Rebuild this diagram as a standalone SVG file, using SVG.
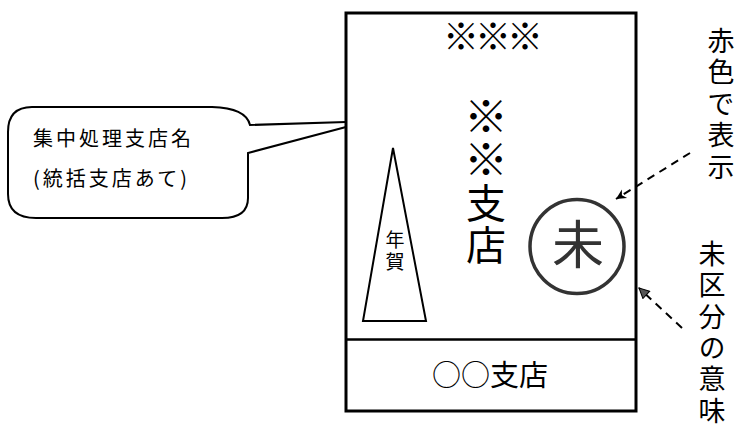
<svg xmlns="http://www.w3.org/2000/svg" width="741" height="429" viewBox="0 0 741 429">
<style>
.t{font-family:"Noto Sans CJK JP","Noto Sans CJK SC",sans-serif;fill:#000}
.c{text-anchor:middle}
.v{writing-mode:vertical-rl;text-orientation:upright}
.ln{fill:none;stroke:#000}
.dash{fill:none;stroke:#000;stroke-width:2;stroke-dasharray:8 6}
</style>
<defs>
<marker id="chev" viewBox="0 0 12 12" refX="11" refY="6" markerWidth="12" markerHeight="12" markerUnits="userSpaceOnUse" orient="auto">
<path d="M1,1 L11,6 L1,11 L4,6 Z" fill="#000"/>
</marker>
<marker id="tri" viewBox="0 0 12 12" refX="11" refY="6" markerWidth="12" markerHeight="12" markerUnits="userSpaceOnUse" orient="auto">
<path d="M1,1 L11,6 L1,11 Z" fill="#555" stroke="#000" stroke-width="1"/>
</marker>
</defs>
<rect width="741" height="429" fill="#fff"/>

<g id="callout">
<path class="ln" stroke-width="2" d="M32,107 L212,107 Q246,108 250,125 L346,122 M346,127 L248,153 L248,198 Q248,218 222,218 L36,218 Q8,218 8,194 L8,132 Q8,107 32,107"/>
<text class="t" x="33" y="146" font-size="20" letter-spacing="3">集中処理支店名</text>
<text class="t" x="33" y="186" font-size="20" letter-spacing="3">(統括支店あて)</text>
</g>

<g id="envelope">
<rect class="ln" x="346" y="13" width="290" height="398" stroke-width="3"/>
<line class="ln" x1="346" y1="339.5" x2="636" y2="339.5" stroke-width="2.5"/>
<text class="t c" x="491" y="50" font-size="36" letter-spacing="-4">※※※</text>
<text class="t v" x="486" y="94" font-size="44" letter-spacing="-1">※※</text>
<text class="t v" x="486" y="183" font-size="40" letter-spacing="2">支店</text>
<text class="t c" x="490" y="386" font-size="29">○○支店</text>
</g>

<g id="stamp">
<polygon class="ln" points="393,148 363,321 426,321" stroke-width="2"/>
<text class="t v" x="395" y="230" font-size="19" letter-spacing="3">年賀</text>
</g>

<g id="mark">
<circle cx="577" cy="246.5" r="47" fill="none" stroke="#333" stroke-width="3.5"/>
<text class="t c" x="578" y="264" font-size="52" style="fill:#333">未</text>
</g>

<g id="label-red">
<text class="t v" x="721" y="27" font-size="27" letter-spacing="4.5">赤色で表示</text>
</g>

<g id="label-meaning">
<text class="t v" x="712" y="240" font-size="27" letter-spacing="4.4">未区分の意味</text>
</g>

<g id="connectors">
<line class="dash" x1="690" y1="153" x2="616" y2="199" marker-end="url(#chev)"/>
<line class="dash" x1="682" y1="328" x2="639" y2="288" marker-end="url(#tri)"/>
</g>
</svg>
